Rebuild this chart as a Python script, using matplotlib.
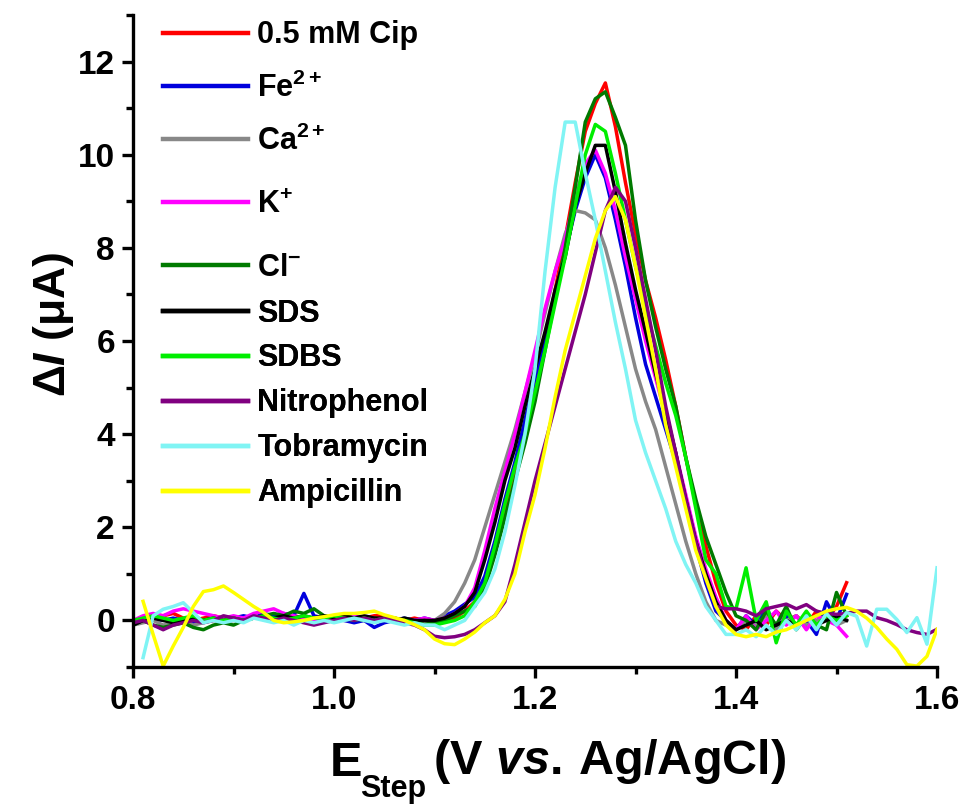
import numpy as np
import matplotlib
matplotlib.use('Agg')
import matplotlib.pyplot as plt
from matplotlib.ticker import MultipleLocator

plt.rcParams['font.family'] = ['Liberation Sans', 'DejaVu Sans']
plt.rcParams['font.weight'] = 'bold'
plt.rcParams['axes.labelweight'] = 'bold'
plt.rcParams['mathtext.fontset'] = 'custom'
plt.rcParams['mathtext.rm'] = 'Liberation Sans:bold'
plt.rcParams['mathtext.bf'] = 'Liberation Sans:bold'
plt.rcParams['mathtext.it'] = 'Liberation Sans:italic:bold'
plt.rcParams['mathtext.default'] = 'rm'

# potential grids (V vs Ag/AgCl), 10 mV steps
x_short = np.round(np.arange(0.80, 1.515, 0.01), 2)   # 0.80 .. 1.51
x_long = np.round(np.arange(0.80, 1.605, 0.01), 2)    # 0.80 .. 1.60
x_long1 = x_long[1:]                                   # 0.81 .. 1.60

cip = [0.0, 0.05, 0.12, 0.1, 0.15, 0.05, 0.0, 0.05, 0.1, 0.05,
       0.0, 0.05, 0.1, 0.05, 0.0, 0.05, 0.1, 0.05, 0.0, 0.05,
       0.1, 0.05, 0.0, 0.05, 0.1, 0.1, 0.05, 0.0, 0.05, 0.0,
       -0.05, 0.0, 0.05, 0.2, 0.4, 0.8, 1.6, 2.4, 3.2, 4.1,
       5.0, 6.0, 7.1, 8.2, 9.4, 10.5, 11.1, 11.54, 10.6, 9.4,
       8.3, 7.3, 6.5, 5.6, 4.6, 3.5, 2.5, 1.6, 0.8, 0.2,
       -0.1, -0.2, 0.1, -0.1, 0.2, 0.0, 0.1, -0.1, 0.2, 0.0, 0.3, 0.81]

fe = [-0.05, 0.0, 0.05, 0.0, 0.05, 0.0, -0.05, 0.0, 0.05, 0.0,
      0.05, 0.1, 0.05, 0.15, 0.1, 0.15, 0.1, 0.58, 0.1, 0.05,
      0.05, 0.0, -0.05, 0.0, -0.15, -0.05, 0.0, 0.05, 0.0, 0.05,
      0.0, 0.1, 0.2, 0.35, 0.5, 0.95, 1.7, 2.6, 3.4, 4.3,
      5.2, 6.1, 7.0, 7.9, 8.8, 9.5, 10.0, 9.5, 8.6, 7.6,
      6.5, 5.5, 4.8, 4.1, 3.4, 2.5, 1.6, 0.8, 0.2, 0.0,
      -0.2, 0.1, -0.1, 0.3, -0.2, 0.1, -0.1, 0.0, -0.3, 0.4, 0.0, 0.56]

ca = [-0.1, -0.05, 0.0, -0.1, -0.05, 0.0, -0.1, -0.05, 0.0, -0.05,
      0.0, 0.05, 0.1, 0.05, 0.0, 0.05, 0.0, 0.05, 0.0, 0.05,
      0.05, 0.0, 0.05, 0.0, 0.05, 0.0, 0.05, 0.0, 0.0, -0.05,
      0.0, 0.15, 0.4, 0.8, 1.3, 2.0, 2.7, 3.4, 4.1, 4.9,
      5.7, 6.6, 7.5, 8.3, 8.8, 8.75, 8.6, 8.0, 7.2, 6.3,
      5.4, 4.7, 4.1, 3.3, 2.5, 1.7, 1.0, 0.4, 0.0, -0.1,
      -0.2, 0.0, -0.1, 0.1, -0.2, 0.0, 0.1, -0.1, 0.0, 0.1, -0.1, 0.0]

k = [0.0, 0.1, 0.15, 0.1, 0.2, 0.25, 0.2, 0.15, 0.1, 0.05,
     0.1, 0.05, 0.15, 0.2, 0.25, 0.15, 0.1, 0.05, 0.0, 0.05,
     0.1, 0.05, 0.1, 0.05, 0.0, 0.05, 0.0, -0.05, 0.0, 0.05,
     0.0, 0.05, 0.15, 0.3, 0.7, 1.5, 2.4, 3.2, 4.0, 4.9,
     5.8, 6.7, 7.5, 8.2, 9.1, 9.8, 10.1, 9.6, 8.8, 7.8,
     6.9, 6.0, 5.2, 4.4, 3.6, 2.7, 1.8, 1.1, 0.5, 0.0,
     -0.2, 0.1, -0.2, 0.0, 0.2, -0.1, 0.1, -0.2, 0.1, 0.0, -0.1, -0.34]

cl = [-0.1, 0.0, -0.1, -0.15, -0.1, -0.05, -0.15, -0.2, -0.1, -0.05,
      -0.1, 0.0, 0.05, 0.1, 0.15, 0.1, 0.2, 0.15, 0.25, 0.1,
      0.05, 0.1, 0.05, 0.0, 0.05, 0.0, 0.05, 0.0, -0.05, 0.0,
      -0.05, 0.0, 0.1, 0.2, 0.3, 0.7, 1.4, 2.2, 3.0, 3.8,
      4.7, 5.8, 6.9, 8.0, 9.3, 10.7, 11.2, 11.35, 10.8, 10.2,
      8.6, 7.3, 6.3, 5.4, 4.6, 3.5, 2.6, 1.8, 1.2, 0.6,
      0.1, 0.0, -0.2, 0.2, -0.1, 0.3, -0.2, 0.1, -0.1, -0.2, 0.6, 0.1]

sds = [-0.1, 0.0, 0.05, 0.0, -0.05, 0.0, 0.05, 0.0, 0.05, 0.0,
       0.05, 0.0, 0.05, 0.1, 0.05, 0.1, 0.05, 0.1, 0.05, 0.1,
       0.05, 0.1, 0.05, 0.1, 0.05, 0.05, 0.0, 0.05, 0.0, 0.0,
       0.0, 0.05, 0.15, 0.3, 0.6, 1.3, 2.1, 3.0, 3.7, 4.6,
       5.4, 6.2, 7.1, 7.8, 8.9, 9.6, 10.2, 10.2, 9.2, 8.1,
       7.1, 6.2, 5.3, 4.5, 3.6, 2.6, 1.7, 1.0, 0.4, 0.0,
       -0.2, -0.1, 0.0, -0.2, -0.1, 0.0, -0.1, 0.1, -0.1, 0.0, 0.1, 0.0]

sdbs = [0.0, 0.05, 0.1, 0.05, 0.0, 0.05, 0.1, 0.0, 0.05, 0.0,
        0.05, 0.0, 0.05, 0.1, 0.05, 0.0, 0.05, 0.1, 0.05, 0.05,
        0.1, 0.05, 0.0, 0.05, 0.0, 0.05, 0.0, 0.0, -0.05, -0.1,
        -0.1, -0.05, 0.0, 0.1, 0.4, 0.8, 1.6, 2.5, 3.3, 4.0,
        4.9, 5.8, 6.8, 7.8, 8.9, 10.0, 10.65, 10.5, 9.6, 8.6,
        7.6, 6.7, 5.9, 5.1, 4.4, 3.5, 2.4, 1.3, 1.0, 0.3,
        0.25, 1.13, 0.0, 0.4, -0.48, 0.2, -0.1, 0.2, -0.1, 0.1, 0.0, 0.1]

nitro = [-0.05, 0.0, -0.1, -0.2, -0.1, -0.05, 0.0, -0.05, 0.0, 0.1,
         0.05, 0.0, 0.1, 0.05, 0.0, 0.05, 0.0, -0.05, -0.1, -0.05,
         0.0, 0.05, 0.0, 0.05, 0.0, 0.05, 0.0, -0.05, -0.1, -0.2,
         -0.34, -0.37, -0.35, -0.3, -0.2, -0.05, 0.1, 0.4, 1.2, 2.1,
         3.0, 3.8, 4.6, 5.4, 6.2, 7.0, 7.9, 8.8, 9.3, 9.0,
         8.0, 6.9, 5.8, 4.6, 3.6, 2.6, 1.7, 0.9, 0.3, 0.25,
         0.25, 0.2, 0.1, 0.25, 0.3, 0.35, 0.25, 0.34, 0.2, 0.15,
         0.13, 0.15, 0.2, 0.2, 0.06, 0.0, -0.09, -0.2, -0.26, -0.3, -0.19]

tobra = [-0.8, 0.1, 0.24, 0.3, 0.38, 0.17, -0.05, 0.0, -0.05,
         0.0, -0.05, 0.05, 0.0, -0.05, 0.0, -0.1, 0.0, -0.05, 0.0,
         -0.05, 0.0, 0.05, 0.0, -0.05, 0.0, -0.05, -0.1, -0.05, -0.1,
         -0.1, -0.2, -0.1, 0.0, 0.3, 0.6, 1.1, 1.9, 2.9, 4.0,
         5.4, 7.5, 9.3, 10.7, 10.7, 9.6, 8.6, 7.5, 6.4, 5.4,
         4.3, 3.6, 3.0, 2.4, 1.7, 1.2, 0.8, 0.3, 0.0, -0.3,
         -0.3, -0.2, -0.35, -0.1, -0.3, 0.0, -0.2, 0.1, -0.2, 0.15,
         -0.1, 0.17, 0.09, -0.55, 0.24, 0.24, 0.02, -0.26, 0.06, -0.51, 1.13]

ampi = [0.41, -0.3, -0.98, -0.55, -0.15, 0.3, 0.62, 0.66, 0.74,
        0.6, 0.45, 0.3, 0.17, 0.0, -0.05, -0.03, 0.0, 0.05, 0.08,
        0.12, 0.15, 0.15, 0.17, 0.2, 0.12, 0.06, 0.0, -0.09, -0.2,
        -0.4, -0.5, -0.52, -0.4, -0.25, -0.05, 0.1, 0.45, 1.0, 1.9,
        2.7, 3.7, 4.8, 5.8, 6.6, 7.4, 8.2, 8.8, 9.1, 8.6,
        7.6, 6.5, 5.4, 4.2, 3.3, 2.4, 1.5, 0.9, 0.3, -0.1,
        -0.3, -0.35, -0.3, -0.35, -0.25, -0.2, -0.1, 0.0, 0.1, 0.2,
        0.25, 0.28, 0.2, 0.05, -0.15, -0.4, -0.62, -0.95, -0.98, -0.77, -0.19]

labels = ['0.5 mM Cip', r'Fe$^{2+}$', r'Ca$^{2+}$', r'K$^{+}$', r'Cl$^{-}$',
          'SDS', 'SDBS', 'Nitrophenol', 'Tobramycin', 'Ampicillin']
colors = ['#ff0000', '#0000dd', '#888888', '#ff00ff', '#007a00',
          '#000000', '#00ee00', '#800080', '#80f4f4', '#ffff00']
series = [(x_short, cip), (x_short, fe), (x_short, ca), (x_short, k),
          (x_short, cl), (x_short, sds), (x_short, sdbs), (x_long, nitro),
          (x_long1, tobra), (x_long1, ampi)]

fig = plt.figure(figsize=(9.71, 8.08), dpi=100)
ax = fig.add_axes([0.137, 0.1745, 0.828, 0.807])

lines = []
for (xs, ys), c, lab in zip(series, colors, labels):
    ln, = ax.plot(xs, ys, color=c, lw=2.5, label=lab)
    lines.append(ln)

ax.set_xlim(0.8, 1.6)
ax.set_ylim(-1, 13)
ax.xaxis.set_minor_locator(MultipleLocator(0.1))
ax.yaxis.set_minor_locator(MultipleLocator(1))
ax.set_xticks([0.8, 1.0, 1.2, 1.4, 1.6])
ax.set_xticklabels(['0.8', '1.0', '1.2', '1.4', '1.6'])
ax.set_yticks([0, 2, 4, 6, 8, 10, 12])

for s in ['top', 'right']:
    ax.spines[s].set_visible(False)
for s in ['left', 'bottom']:
    ax.spines[s].set_linewidth(2.4)
ax.tick_params(which='major', length=8, width=2.4, labelsize=24, pad=5)
ax.tick_params(which='minor', length=5, width=2.4)

# x label: E with a dropped "Step" subscript
tE = ax.text(0.245, -0.167, 'E', transform=ax.transAxes, fontsize=35,
             fontweight='bold', ha='left', va='baseline')
tS = ax.annotate('Step', xy=(1, 0), xycoords=tE, xytext=(-1.5, -8),
                 textcoords='offset points', fontsize=22, fontweight='bold',
                 ha='left', va='baseline')
ax.annotate(r'(V $\mathit{vs.}\,$Ag/AgCl)', xy=(1, 0), xycoords=(tS, tE),
            xytext=(5, 0), textcoords='offset points', fontsize=35,
            fontweight='bold', ha='left', va='bottom')

ax.set_ylabel(r'$\mathit{\Delta I}$ (μA)', fontsize=32)
ax.yaxis.set_label_coords(-0.071, 0.525)

# legend in three blocks to follow the uneven row spacing of the original
groups = [(slice(0, 3), 0.9915, 0.72), (slice(3, 5), 0.7323, 1.1),
          (slice(5, 10), 0.5651, 0.49)]
for sl, ytop, sp in groups:
    leg = ax.legend(handles=lines[sl], loc='upper left',
                    bbox_to_anchor=(0.037, ytop), frameon=False,
                    fontsize=22, handlelength=2.8, handletextpad=0.3,
                    borderaxespad=0, borderpad=0, labelspacing=sp)
    for line in leg.get_lines():
        line.set_linewidth(3.2)
    ax.add_artist(leg)

fig.savefig('out.png', dpi=100)
